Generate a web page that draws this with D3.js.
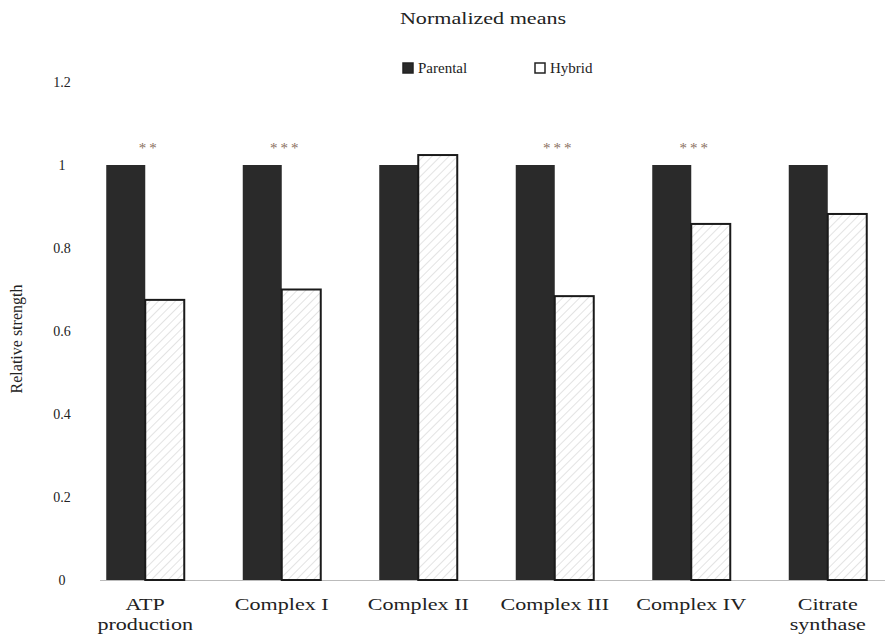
<!DOCTYPE html>
<html>
<head>
<meta charset="utf-8">
<script src="https://cdn.jsdelivr.net/npm/d3@7/dist/d3.min.js"></script>
<style>
  html, body { margin: 0; padding: 0; background: #fff; }
  text { font-family: "Liberation Serif", "Times New Roman", serif; fill: #222; }
</style>
</head>
<body>
<svg id="chart" width="889" height="636"></svg>
<script>
// Categories and series
const categories = ["ATP production", "Complex I", "Complex II", "Complex III", "Complex IV", "Citrate synthase"];
const categoryLines = [["ATP", "production"], ["Complex I"], ["Complex II"], ["Complex III"], ["Complex IV"], ["Citrate", "synthase"]];
const parental = [1, 1, 1, 1, 1, 1];
const hybrid = [0.675, 0.70, 1.024, 0.684, 0.858, 0.882];
const significance = ["**", "***", "", "***", "***", ""];
const yTicks = [0, 0.2, 0.4, 0.6, 0.8, 1, 1.2];
const seriesNames = ["Parental", "Hybrid"];

const svg = d3.select("#chart");

const y = d3.scaleLinear().domain([0, 1.2]).range([580, 82]);
const x0 = d3.scaleBand().domain(categories).range([77, 896]).paddingInner(0).paddingOuter(0);
const x1 = d3.scaleBand().domain(seriesNames).range([0, x0.bandwidth()]).paddingInner(0).paddingOuter(0.75);

// Wide serif lettering used for the title and category names
const wide = 1.3;

// Hatch pattern for the hybrid bars
const defs = svg.append("defs");
const pat = defs.append("pattern")
  .attr("id", "hatch").attr("patternUnits", "userSpaceOnUse")
  .attr("width", 6).attr("height", 6)
  .attr("patternTransform", "rotate(45)");
pat.append("rect").attr("width", 6).attr("height", 6).attr("fill", "#fff");
pat.append("line").attr("x1", 0).attr("y1", 0).attr("x2", 0).attr("y2", 6)
  .attr("stroke", "#c8c8c8").attr("stroke-width", 1);

// Baseline
svg.append("line")
  .attr("x1", 100).attr("x2", 885)
  .attr("y1", y(0) + 0.5).attr("y2", y(0) + 0.5)
  .attr("stroke", "#bbb").attr("stroke-width", 1);

// Y axis tick labels
svg.append("g").selectAll("text").data(yTicks).join("text")
  .attr("x", 62).attr("y", d => y(d))
  .attr("dy", "0.35em")
  .attr("text-anchor", "middle")
  .attr("font-size", 14)
  .text(d => d3.format("")(d));

// Y axis title
svg.append("text")
  .attr("transform", `translate(22,${(y(0) + y(1.2)) / 2 + 8}) rotate(-90)`)
  .attr("text-anchor", "middle")
  .attr("font-size", 16)
  .text("Relative strength");

// Bars
const groups = svg.append("g").selectAll("g").data(categories).join("g")
  .attr("transform", d => `translate(${x0(d)},0)`);

groups.append("rect")
  .attr("x", x1("Parental"))
  .attr("width", x1.bandwidth())
  .attr("y", (d, i) => y(parental[i]))
  .attr("height", (d, i) => y(0) - y(parental[i]))
  .attr("fill", "#2a2a2a");

groups.append("rect")
  .attr("x", x1("Hybrid"))
  .attr("width", x1.bandwidth())
  .attr("y", (d, i) => y(hybrid[i]))
  .attr("height", (d, i) => y(0) - y(hybrid[i]))
  .attr("fill", "url(#hatch)")
  .attr("stroke", "#1a1a1a").attr("stroke-width", 2);

// Significance marks
groups.append("text")
  .attr("x", x0.bandwidth() / 2 + 4)
  .attr("y", 153)
  .attr("text-anchor", "middle")
  .attr("font-size", 15)
  .attr("letter-spacing", 3)
  .style("fill", "#8a7060")
  .text((d, i) => significance[i]);

// Category labels
groups.append("text")
  .attr("transform", `translate(${x0.bandwidth() / 2},610) scale(${wide},1)`)
  .attr("text-anchor", "middle")
  .attr("font-size", 17)
  .selectAll("tspan").data((d, i) => categoryLines[i]).join("tspan")
  .attr("x", 0)
  .attr("dy", (d, j) => j === 0 ? 0 : 20)
  .text(d => d);

// Title
svg.append("text")
  .attr("transform", `translate(483,24) scale(${wide},1)`)
  .attr("text-anchor", "middle")
  .attr("font-size", 17)
  .text("Normalized means");

// Legend
const legend = [
  { name: "Parental", x: 403, fill: "#2a2a2a" },
  { name: "Hybrid", x: 535, fill: "#fff" }
];
const lg = svg.append("g").selectAll("g").data(legend).join("g")
  .attr("transform", d => `translate(${d.x},63)`);
lg.append("rect")
  .attr("width", 10).attr("height", 10)
  .attr("fill", d => d.fill)
  .attr("stroke", "#222").attr("stroke-width", 1.5);
lg.append("text")
  .attr("x", 15).attr("y", 10)
  .attr("font-size", 15)
  .text(d => d.name);
</script>
</body>
</html>
